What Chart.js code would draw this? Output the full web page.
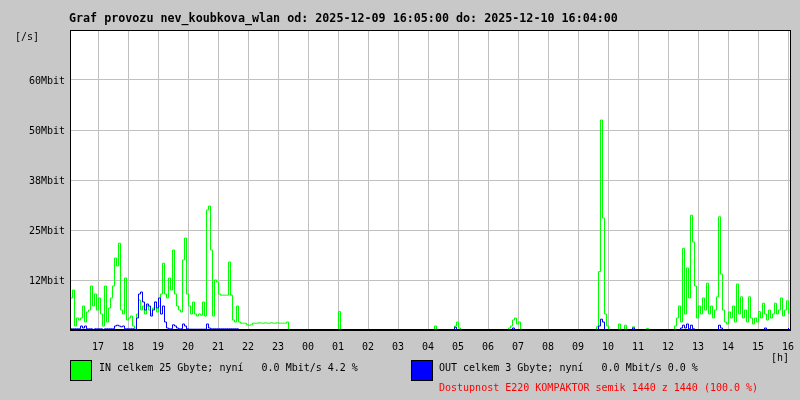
<!DOCTYPE html>
<html>
<head>
<meta charset="utf-8">
<script src="https://cdn.jsdelivr.net/npm/chart.js@4.4.1/dist/chart.umd.min.js"></script>
<style>
  html, body { margin: 0; padding: 0; background: #c8c8c8; }
  #wrap { width: 800px; height: 400px; }
</style>
</head>
<body>
<div id="wrap"><canvas id="trafficChart" width="800" height="400"></canvas></div>
<script>
// one sample every 4 minutes, first sample at 16:05 (= -55 min from 17:00)
const sampleStart = -55;
const sampleStep = 4;
const axisStart = -56;   // 16:04
const axisEnd = 1384;    // 16:04 next day

// IN traffic [Mbit/s]
const inMbit = [
  8, 10, 1, 3, 2.5, 3, 6, 2, 4.5, 5,
  11, 6, 9, 5, 8, 4, 1, 11, 2, 5.5,
  8, 11, 18, 16, 21.7, 5, 4, 13, 2.5, 3,
  3.5, 1, 0.5, 4, 7.5, 5, 6, 4, 6, 5,
  4, 5.5, 7, 4.5, 6, 9, 16.7, 9, 8, 13,
  10, 20, 9, 6, 5, 4.5, 17.5, 23, 9, 6,
  4, 7, 4, 3.5, 4, 3.7, 7, 3.5, 30, 31,
  20, 3.5, 12.5, 12, 9, 8.7, 8.7, 8.7, 8.7, 17,
  8.7, 2.5, 2, 6, 2, 1.7, 1.7, 1.7, 1.3, 1.2,
  1.3, 1.7, 1.7, 1.7, 1.8, 1.7, 1.7, 1.8, 1.7, 1.7,
  1.8, 1.7, 1.7, 1.8, 1.7, 1.7, 1.7, 1.7, 2, 0,
  0, 0, 0, 0, 0, 0, 0, 0, 0, 0,
  0, 0, 0, 0, 0, 0, 0, 0, 0, 0,
  0, 0, 0, 0, 4.6, 0, 0, 0, 0, 0,
  0, 0, 0, 0, 0, 0, 0, 0, 0, 0,
  0, 0, 0, 0, 0, 0, 0, 0, 0, 0,
  0, 0, 0, 0, 0, 0, 0, 0, 0, 0,
  0, 0, 0, 0, 0, 0, 0, 0, 0, 0,
  0, 0, 1, 0, 0, 0, 0, 0, 0, 0,
  0, 0, 1, 2, 0.5, 0, 0, 0, 0, 0,
  0, 0, 0, 0, 0, 0, 0, 0, 0, 0,
  0, 0, 0, 0, 0, 0, 0, 0, 0, 0.5,
  1, 2.5, 3, 1.5, 2, 0, 0, 0, 0, 0,
  0, 0, 0, 0, 0, 0, 0, 0, 0, 0,
  0, 0, 0, 0, 0, 0, 0, 0, 0, 0,
  0, 0, 0, 0, 0, 0, 0, 0, 0, 0,
  0, 0, 0, 0.8, 14.6, 52.5, 28, 4, 1, 0,
  0, 0, 0, 0, 1.5, 0, 0, 1.2, 0, 0,
  0, 0.8, 0, 0, 0, 0, 0, 0, 0.4, 0,
  0, 0, 0, 0, 0, 0, 0, 0, 0, 0,
  0, 0, 1, 3, 6, 2, 20.4, 4, 15.5, 8,
  28.7, 22, 11, 3, 6, 4, 8, 5, 11.7, 4,
  6, 3, 5, 8.3, 28.3, 14, 5, 2, 1.5, 4.5,
  3, 6, 2, 11.5, 4, 8.3, 3, 5, 2, 8.3,
  3, 1.5, 3, 2, 4.6, 3, 6.7, 4, 2.5, 5,
  3, 4, 6.7, 4, 5, 8, 3.5, 5, 7.3, 4
];

// OUT traffic [Mbit/s]
const outMbit = [
  0.3, 0.3, 0.3, 0.3, 0.3, 1, 0.5, 1, 0.3, 0.3,
  0.3, 0, 0.3, 0.3, 0.3, 0.3, 0, 0.3, 0.3, 0.3,
  0.3, 0.3, 1, 1.2, 1, 0.8, 1, 0.3, 0.3, 0.3,
  0.3, 0.3, 0, 3, 9, 9.5, 7, 5, 6.5, 6,
  3.5, 5, 7, 5.5, 8, 4, 6, 2, 0.5, 0.3,
  0.3, 1.3, 1, 0.5, 0.3, 0.3, 1.5, 1, 0.3, 0.2,
  0.2, 0.2, 0.2, 0.2, 0.2, 0.2, 0.2, 0.2, 1.5, 0.5,
  0.3, 0.3, 0.3, 0.3, 0.3, 0.3, 0.3, 0.3, 0.3, 0.3,
  0.3, 0.3, 0.3, 0.3, 0, 0, 0, 0, 0, 0,
  0, 0, 0, 0, 0, 0, 0, 0, 0, 0,
  0, 0, 0, 0, 0, 0, 0, 0, 0, 0,
  0, 0, 0, 0, 0, 0, 0, 0, 0, 0,
  0, 0, 0, 0, 0, 0, 0, 0, 0, 0,
  0, 0, 0, 0, 0, 0, 0, 0, 0, 0,
  0, 0, 0, 0, 0, 0, 0, 0, 0, 0,
  0, 0, 0, 0, 0, 0, 0, 0, 0, 0,
  0, 0, 0, 0, 0, 0, 0, 0, 0, 0,
  0, 0, 0, 0, 0, 0, 0, 0, 0, 0,
  0, 0, 0, 0, 0, 0, 0, 0, 0, 0,
  0, 0, 0.7, 0, 0, 0, 0, 0, 0, 0,
  0, 0, 0, 0, 0, 0, 0, 0, 0, 0,
  0, 0, 0, 0, 0, 0, 0, 0, 0, 0,
  0, 0.5, 0, 0, 0, 0, 0, 0, 0, 0,
  0, 0, 0, 0, 0, 0, 0, 0, 0, 0,
  0, 0, 0, 0, 0, 0, 0, 0, 0, 0,
  0, 0, 0, 0, 0, 0, 0, 0, 0, 0,
  0, 0, 0, 0, 1, 2.7, 2, 0, 0, 0,
  0, 0, 0, 0, 0, 0, 0, 0, 0, 0,
  0, 0.5, 0, 0, 0, 0, 0, 0, 0, 0,
  0, 0, 0, 0, 0, 0, 0, 0, 0, 0,
  0, 0, 0, 0, 0, 0.5, 1.2, 0.5, 1.5, 0.3,
  1.2, 0.3, 0, 0, 0, 0, 0, 0, 0, 0,
  0, 0, 0, 0, 1.2, 0.5, 0, 0, 0, 0,
  0, 0, 0, 0, 0, 0, 0, 0, 0, 0,
  0, 0, 0, 0, 0, 0, 0, 0.5, 0, 0,
  0, 0, 0, 0, 0, 0, 0, 0, 0, 0.5
];

const hourLabels = ['17', '18', '19', '20', '21', '22', '23', '00', '01', '02', '03', '04',
                    '05', '06', '07', '08', '09', '10', '11', '12', '13', '14', '15', '16'];
const yTickLabels = ['', '12Mbit', '25Mbit', '38Mbit', '50Mbit', '60Mbit', ''];

const titleText = 'Graf provozu nev_koubkova_wlan od: 2025-12-09 16:05:00 do: 2025-12-10 16:04:00';
const inLegend = 'IN celkem 25 Gbyte; nyní   0.0 Mbit/s 4.2 %';
const outLegend = 'OUT celkem 3 Gbyte; nyní   0.0 Mbit/s 0.0 %';
const availText = 'Dostupnost E220 KOMPAKTOR semik 1440 z 1440 (100.0 %)';

const toPoints = arr => arr.map((v, i) => ({ x: sampleStart + i * sampleStep, y: v }));
const hourTicks = hourLabels.map((_, i) => i * 60);

const mono = 'DejaVu Sans Mono, monospace';

// grey page, white plot, black frame, texts and legend
const mrtgFrame = {
    id: 'mrtgFrame',
    beforeDraw(chart) {
        const { ctx, chartArea: a } = chart;
        ctx.save();
        ctx.fillStyle = '#c8c8c8';
        ctx.fillRect(0, 0, chart.width, chart.height);
        ctx.fillStyle = '#ffffff';
        ctx.fillRect(a.left, a.top, a.right - a.left, a.bottom - a.top);
        ctx.restore();
    },
    afterDraw(chart) {
        const { ctx, chartArea: a } = chart;
        ctx.save();
        ctx.strokeStyle = '#000';
        ctx.lineWidth = 1;
        ctx.strokeRect(a.left + 0.5, a.top + 0.5, a.right - a.left, a.bottom - a.top);
        ctx.fillStyle = '#000';
        ctx.fillRect(a.left, a.bottom - 1, a.right - a.left + 1, 2);

        ctx.textBaseline = 'alphabetic';
        ctx.textAlign = 'left';
        ctx.font = 'bold 11.7px ' + mono;
        ctx.fillText(titleText, 69, 22);

        ctx.font = '10px ' + mono;
        ctx.fillText('[/s]', 15, 40);
        ctx.textAlign = 'right';
        ctx.fillText('[h]', 789, 361);

        // legend boxes
        ctx.textAlign = 'left';
        ctx.fillStyle = '#00ff00';
        ctx.fillRect(70, 360, 21, 20);
        ctx.strokeRect(70.5, 360.5, 21, 20);
        ctx.fillStyle = '#0000ff';
        ctx.fillRect(411, 360, 21, 20);
        ctx.strokeRect(411.5, 360.5, 21, 20);

        ctx.fillStyle = '#000';
        ctx.fillText(inLegend, 99, 371);
        ctx.fillText(outLegend, 439, 371);
        ctx.fillStyle = '#ff0000';
        ctx.fillText(availText, 439, 391);
        ctx.restore();
    }
};

const ctx = document.getElementById('trafficChart').getContext('2d');
const trafficChart = new Chart(ctx, {
    type: 'line',
    data: {
        datasets: [{
            label: 'IN',
            data: toPoints(inMbit),
            borderColor: '#00ff00',
            borderWidth: 1,
            stepped: true,
            pointRadius: 0,
            order: 2
        }, {
            label: 'OUT',
            data: toPoints(outMbit),
            borderColor: '#0000ff',
            borderWidth: 1,
            stepped: true,
            pointRadius: 0,
            order: 1
        }]
    },
    options: {
        responsive: false,
        animation: false,
        devicePixelRatio: 1,
        layout: { padding: { left: 0, top: 30, right: 10, bottom: 0 } },
        plugins: {
            legend: { display: false },
            title: { display: false },
            tooltip: { enabled: false }
        },
        scales: {
            x: {
                type: 'linear',
                min: axisStart,
                max: axisEnd,
                afterBuildTicks: axis => { axis.ticks = hourTicks.map(v => ({ value: v })); },
                afterFit: axis => { axis.height = 70; axis.paddingLeft = 0; axis.paddingRight = 0; },
                grid: { color: '#c0c0c0', lineWidth: 1, drawTicks: false },
                border: { display: false },
                ticks: {
                    autoSkip: false,
                    maxRotation: 0,
                    padding: 11,
                    color: '#000',
                    font: { family: mono, size: 10 },
                    callback: (v, i) => hourLabels[i]
                }
            },
            y: {
                min: 0,
                max: 75,
                afterFit: axis => { axis.width = 70; },
                grid: { color: '#c0c0c0', lineWidth: 1, drawTicks: false },
                border: { display: false },
                ticks: {
                    stepSize: 12.5,
                    padding: 5,
                    labelOffset: 1,
                    color: '#000',
                    font: { family: mono, size: 10 },
                    callback: (v, i) => yTickLabels[i]
                }
            }
        }
    },
    plugins: [mrtgFrame]
});
</script>
</body>
</html>
